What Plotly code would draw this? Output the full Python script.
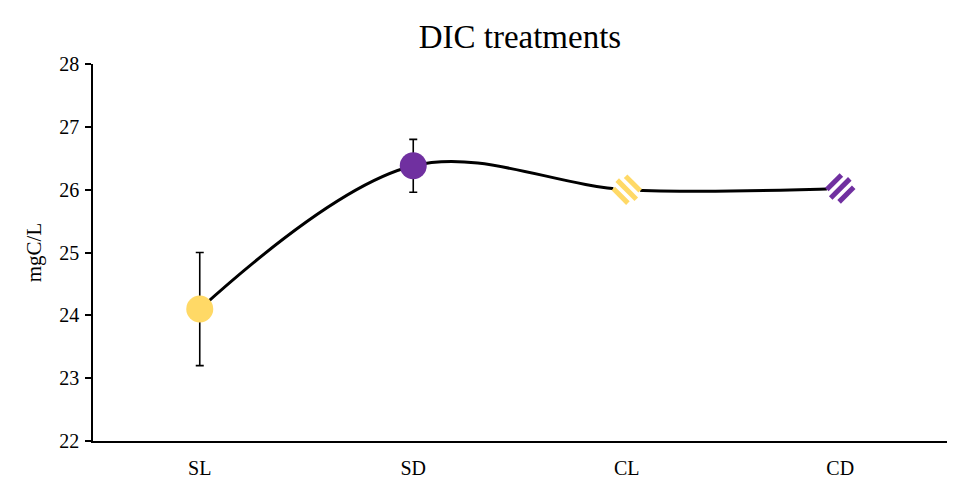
import numpy as np
import plotly.graph_objects as go

# DIC concentration by treatment
treatments = ["SL", "SD", "CL", "CD"]
dic_mean = [24.1, 26.38, 26.0, 26.02]
dic_err = [0.9, 0.42, 0.0, 0.0]

YELLOW = "#FFD966"
PURPLE = "#7030A0"
marker_fill = [YELLOW, PURPLE, "white", "white"]
# hatched markers: treatment -> (stripe colour, stripe direction)
hatched = {"CL": (YELLOW, -1), "CD": (PURPLE, 1)}

SERIF = "Liberation Serif, Times New Roman, serif"

fig = go.Figure()

# smoothed connecting line
fig.add_trace(go.Scatter(
    x=treatments, y=dic_mean, mode="lines",
    line=dict(color="black", width=3, shape="spline", smoothing=1),
    hoverinfo="skip", showlegend=False,
))

# points with error bars
fig.add_trace(go.Scatter(
    x=treatments, y=dic_mean, mode="markers",
    marker=dict(size=27, color=marker_fill, line=dict(width=0)),
    error_y=dict(type="data", array=dic_err, visible=True,
                 color="black", thickness=1.6, width=4),
    showlegend=False,
))

# diagonal stripes inside the hatched markers (pixel offsets around the point)
R = 13.5
shapes = []
for name, (col, direction) in hatched.items():
    i = treatments.index(name)
    t = np.array([1.0, direction]) / np.sqrt(2)   # stripe direction
    n = np.array([direction, -1.0]) / np.sqrt(2)  # normal to stripes
    for d in (-8.7, 0.0, 8.7):
        h = np.sqrt(max(R * R - d * d, 0.0))
        p0 = d * n - h * t
        p1 = d * n + h * t
        shapes.append(dict(
            type="line", xref="x", yref="y",
            xsizemode="pixel", ysizemode="pixel",
            xanchor=name, yanchor=dic_mean[i],
            x0=p0[0], y0=p0[1], x1=p1[0], y1=p1[1],
            line=dict(color=col, width=5), layer="above",
        ))

fig.update_layout(
    width=954, height=486,
    margin=dict(l=93, r=7, t=64, b=37),
    paper_bgcolor="white", plot_bgcolor="white",
    font=dict(family=SERIF, color="black", size=20),
    title=dict(text="DIC treatments", x=0.545, xanchor="center",
               y=0.925, yanchor="middle",
               font=dict(family=SERIF, size=33, color="black")),
    shapes=shapes,
    xaxis=dict(
        type="category", range=[-0.5, 3.5],
        showline=True, linecolor="black", linewidth=1.5,
        showgrid=False, zeroline=False, ticks="",
        tickfont=dict(family=SERIF, size=20, color="black"),
        ticklabelstandoff=8,
    ),
    yaxis=dict(
        range=[22, 28], dtick=1, tick0=22,
        showline=True, linecolor="black", linewidth=1.5,
        showgrid=False, zeroline=False,
        ticks="outside", ticklen=6, tickwidth=1.5, tickcolor="black",
        tickfont=dict(family=SERIF, size=20, color="black"),
        ticklabelstandoff=2,
        title=dict(text="mgC/L", standoff=12,
                   font=dict(family=SERIF, size=21, color="black")),
    ),
)

fig.write_html("out.html")
